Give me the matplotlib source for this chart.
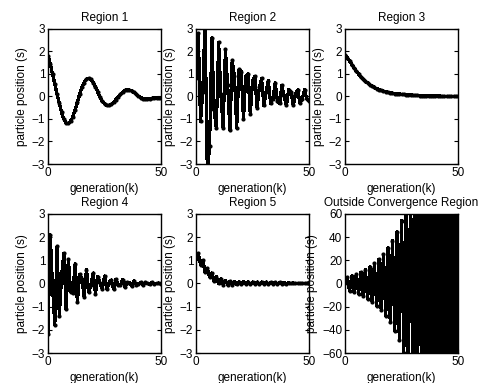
import matplotlib
matplotlib.use("Agg")
import matplotlib.pyplot as plt

plt.rcParams['font.family'] = ['Liberation Sans', 'DejaVu Sans']

# generation index k = 0..50
generation = list(range(51))

regiao1 = [1.80, 1.45, 1.00, 0.55, 0.10, -0.30, -0.70, -1.00, -1.18, -1.20,
           -1.10, -0.90, -0.60, -0.25, 0.10, 0.40, 0.62, 0.76, 0.80, 0.76,
           0.62, 0.42, 0.20, -0.02, -0.20, -0.33, -0.40, -0.40, -0.35, -0.26,
           -0.14, -0.02, 0.10, 0.20, 0.27, 0.30, 0.29, 0.25, 0.18, 0.10,
           0.02, -0.05, -0.09, -0.11, -0.11, -0.10, -0.08, -0.06, -0.05, -0.05,
           -0.05]

regiao2 = [0.8, 2.8, -1.1, 0.2, 3.4, -3.4, -2.2, 2.6, -0.6, -1.4,
           2.4, 0.1, -1.4, 2.1, 0.5, -1.5, 1.6, 0.9, -1.4, 1.2,
           1.1, -1.0, 0.9, 1.0, -0.8, 0.7, 0.9, -0.5, 0.4, 0.8,
           -0.4, 0.2, 0.7, -0.3, -0.1, 0.6, -0.2, -0.3, 0.5, 0.0,
           -0.4, 0.3, 0.2, -0.4, 0.1, 0.3, -0.3, -0.1, 0.3, -0.1,
           -0.2]

regiao3 = [1.85, 1.72, 1.58, 1.42, 1.28, 1.13, 1.00, 0.88, 0.78, 0.68,
           0.60, 0.52, 0.46, 0.40, 0.35, 0.31, 0.27, 0.24, 0.21, 0.19,
           0.17, 0.15, 0.13, 0.12, 0.11, 0.10, 0.09, 0.08, 0.07, 0.07,
           0.06, 0.05, 0.05, 0.04, 0.04, 0.03, 0.03, 0.03, 0.02, 0.02,
           0.02, 0.02, 0.02, 0.01, 0.01, 0.01, 0.01, 0.01, 0.01, 0.01,
           0.01]

regiao4 = [-2.2, 2.1, -0.15, -1.8, 1.6, -1.4, 0.3, 1.3, -1.1, 1.05,
           -0.35, -0.4, 0.85, -0.8, 0.4, 0.2, -0.6, 0.6, -0.35, -0.07,
           0.45, -0.45, 0.3, 0.0, -0.23, 0.32, -0.24, 0.04, 0.15, -0.23,
           0.19, -0.06, -0.08, 0.16, -0.15, 0.06, 0.04, -0.10, 0.11, -0.05,
           -0.02, 0.06, -0.08, 0.05, 0.0, -0.04, 0.05, -0.03, 0.0, 0.02,
           -0.03]

regiao5 = [1.1, 1.3, 0.8, 1.0, 0.5, 0.65, 0.3, 0.45, 0.1, 0.3,
           0.0, 0.2, -0.05, 0.12, -0.05, 0.1, -0.05, 0.08, -0.04, 0.07,
           -0.04, 0.07, -0.03, 0.06, -0.03, 0.06, -0.03, 0.06, -0.03, 0.06,
           -0.03, 0.06, -0.03, 0.05, -0.02, 0.05, -0.02, 0.05, -0.02, 0.04,
           -0.01, 0.03, 0.0, 0.02, 0.0, 0.01, 0.0, 0.01, 0.0, 0.0,
           0.0]

fora = [0, 5.5, -6.1, 6.7, -7.3, 8.1, -8.9, 9.7, -10.7, 11.8,
        -13.0, 14.3, -15.7, 17.3, -19.0, 20.9, -23.0, 25.3, -27.8, 30.6,
        -33.6, 37.0, -40.7, 44.8, -49.2, 54.2, -59.6, 65.5, -72.1, 79.3,
        -87.2, 95.9, -105, 116, -128, 141, -155, 170, -187, 206,
        -226, 249, -274, 301, -331, 364, -401, 441, -485, 534,
        -587]

series = [regiao1, regiao2, regiao3, regiao4, regiao5, fora]
titulos = ["Region 1", "Region 2", "Region 3", "Region 4", "Region 5",
           "Outside Convergence Region"]

fig = plt.figure(figsize=(4.81, 3.83), dpi=100)

lefts = [0.0998, 0.4075, 0.7173]
largura = 0.235
linhas = [(0.5718, 0.3525), (0.0783, 0.363)]

for i, (valores, titulo) in enumerate(zip(series, titulos)):
    bottom, altura = linhas[i // 3]
    ax = fig.add_axes([lefts[i % 3], bottom, largura, altura])
    ax.plot(generation, valores, color='black', linewidth=1.6,
            marker='.', markersize=4, antialiased=False)
    ax.set_xlim(0, 50)
    ax.set_xticks([0, 50])
    if i == 5:
        ax.set_ylim(-60, 60)
        ax.set_yticks([-60, -40, -20, 0, 20, 40, 60])
    else:
        ax.set_ylim(-3, 3)
        ax.set_yticks([-3, -2, -1, 0, 1, 2, 3])
    ax.tick_params(direction='in', length=3, width=0.8, labelsize=8.5,
                   right=True, top=False, pad=2)
    for s in ax.spines.values():
        s.set_linewidth(1.0)
    ax.set_title(titulo, fontsize=8.5, pad=6)
    ax.set_xlabel("generation(k)", fontsize=8.5, labelpad=3)
    ax.set_ylabel("particle position (s)", fontsize=8.5, labelpad=3)

fig.savefig("out.png", dpi=100)
